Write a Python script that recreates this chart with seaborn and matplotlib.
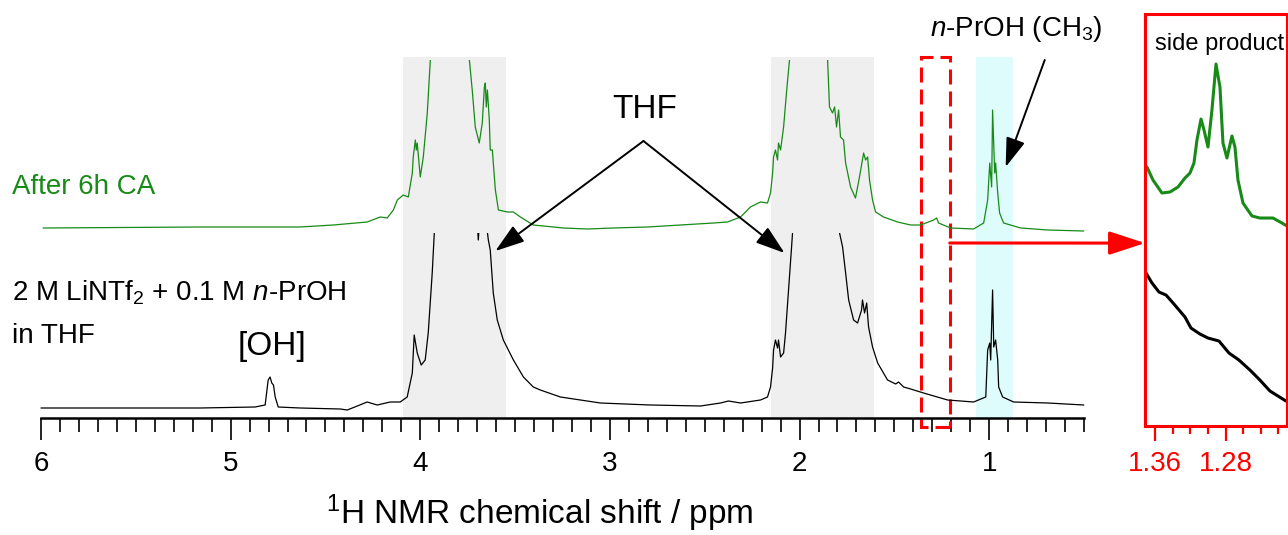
import pandas as pd
import seaborn as sns
import matplotlib.pyplot as plt
from matplotlib.patches import Rectangle
from matplotlib.ticker import MultipleLocator

# 1H NMR traces: (ppm, intensity, arb. units)
before = [
    (6.000, 0), (5.689, 0), (5.161, 0), (4.871, 1), (4.818, 3), (4.802, 28),
    (4.792, 31), (4.783, 25), (4.774, 23), (4.765, 11), (4.749, 1), (4.633, 0),
    (4.422, -1), (4.385, -2), (4.332, 2), (4.280, 6), (4.227, 3), (4.158, 6),
    (4.106, 6), (4.069, 11), (4.042, 35), (4.032, 73), (4.016, 55), (3.995, 43),
    (3.974, 48), (3.958, 75), (3.937, 135), (3.926, 175), (3.868, 400), (3.763, 400),
    (3.704, 200), (3.694, 168), (3.683, 200), (3.652, 185), (3.641, 168), (3.631, 158),
    (3.615, 115), (3.594, 88), (3.562, 68), (3.509, 48), (3.456, 31), (3.404, 21),
    (3.367, 18), (3.261, 11), (3.050, 5), (2.786, 3), (2.522, 2), (2.417, 5),
    (2.375, 7), (2.311, 5), (2.206, 8), (2.169, 11), (2.153, 21), (2.142, 40),
    (2.137, 58), (2.127, 68), (2.116, 60), (2.111, 68), (2.100, 51), (2.084, 55),
    (2.074, 75), (2.058, 118), (2.042, 161), (2.037, 175), (1.995, 400), (1.837, 400),
    (1.789, 175), (1.773, 161), (1.757, 135), (1.741, 108), (1.715, 88), (1.694, 85),
    (1.673, 98), (1.668, 108), (1.657, 95), (1.646, 105), (1.636, 81), (1.615, 61),
    (1.588, 45), (1.536, 28), (1.493, 24), (1.478, 26), (1.451, 21), (1.414, 19),
    (1.346, 15), (1.219, 8), (1.082, 6), (1.018, 11), (1.008, 58), (0.997, 65),
    (0.992, 48), (0.982, 118), (0.976, 61), (0.966, 68), (0.955, 48), (0.950, 21),
    (0.929, 11), (0.871, 6), (0.691, 5), (0.501, 3),
]

after = [
    (5.989, 0), (5.161, 1), (4.633, 1), (4.459, 3), (4.280, 6), (4.211, 11),
    (4.174, 10), (4.142, 18), (4.121, 28), (4.090, 33), (4.063, 31), (4.042, 55),
    (4.037, 71), (4.026, 88), (4.021, 78), (4.016, 85), (4.000, 51), (3.984, 71),
    (3.963, 115), (3.947, 168), (3.868, 400), (3.789, 400), (3.741, 168), (3.726, 138),
    (3.710, 101), (3.689, 85), (3.673, 105), (3.662, 141), (3.657, 145), (3.652, 121),
    (3.646, 138), (3.636, 108), (3.631, 78), (3.620, 78), (3.604, 38), (3.588, 18),
    (3.541, 16), (3.509, 16), (3.472, 11), (3.404, 3), (3.245, 0), (3.119, -1),
    (2.982, 0), (2.802, 1), (2.628, 3), (2.454, 5), (2.380, 6), (2.311, 11),
    (2.259, 21), (2.206, 26), (2.169, 25), (2.153, 35), (2.142, 55), (2.137, 71),
    (2.127, 78), (2.116, 68), (2.111, 85), (2.100, 78), (2.084, 101), (2.069, 135),
    (2.053, 168), (1.995, 400), (1.889, 400), (1.852, 168), (1.842, 121), (1.826, 115),
    (1.815, 121), (1.805, 101), (1.794, 118), (1.784, 91), (1.768, 88), (1.757, 65),
    (1.731, 41), (1.705, 30), (1.684, 51), (1.662, 75), (1.652, 68), (1.641, 71),
    (1.631, 48), (1.615, 28), (1.599, 16), (1.557, 11), (1.483, 6), (1.414, 3),
    (1.361, 3), (1.293, 8), (1.277, 10), (1.267, 5), (1.203, 0), (1.082, -1),
    (1.029, 5), (1.008, 28), (0.997, 65), (0.987, 41), (0.982, 118), (0.971, 55),
    (0.966, 65), (0.955, 35), (0.945, 15), (0.924, 5), (0.834, 0), (0.691, -2),
    (0.501, -3),
]

# zoom of the 1.37 - 1.21 ppm window (side product)
zoom_after = [
    (1.3691, 259), (1.3623, 246), (1.3521, 233), (1.3430, 234), (1.3339, 239),
    (1.3260, 248), (1.3203, 253), (1.3158, 263), (1.3124, 286), (1.3078, 307),
    (1.3044, 296), (1.2999, 279), (1.2954, 316), (1.2908, 362), (1.2863, 339),
    (1.2829, 283), (1.2784, 268), (1.2727, 290), (1.2693, 279), (1.2659, 246),
    (1.2602, 223), (1.2500, 210), (1.2410, 208), (1.2262, 208), (1.2160, 203),
    (1.2103, 200),
]
zoom_before = [
    (1.3702, 153), (1.3634, 143), (1.3555, 134), (1.3475, 131), (1.3385, 122),
    (1.3260, 109), (1.3192, 98), (1.3090, 92), (1.2999, 88), (1.2874, 85),
    (1.2761, 73), (1.2648, 66), (1.2523, 56), (1.2410, 46), (1.2296, 35),
    (1.2205, 30), (1.2115, 25),
]

thf_regions = [(4.090, 3.546), (2.153, 1.609)]
ch3_region = (1.071, 0.876)
zoom_window = (1.358, 1.208)

green = "#178a17"
red = "#ff0000"
offset = 180  # vertical offset of the "after" trace

sns.set_theme(style="white")
plt.rcParams["font.family"] = ["Liberation Sans", "DejaVu Sans"]
plt.rcParams["mathtext.fontset"] = "custom"
plt.rcParams["mathtext.rm"] = "Liberation Sans"
plt.rcParams["mathtext.it"] = "Liberation Sans:italic"
plt.rcParams["text.color"] = "black"

df_before = pd.DataFrame(before, columns=["ppm", "intensity"])
df_after = pd.DataFrame(after, columns=["ppm", "intensity"])
df_after["intensity"] = df_after["intensity"] + offset
dz_after = pd.DataFrame(zoom_after, columns=["ppm", "intensity"])
dz_before = pd.DataFrame(zoom_before, columns=["ppm", "intensity"])

fig = plt.figure(figsize=(12.88, 5.35), dpi=100)
ax = fig.add_axes([0.03183, 0.21869, 0.80978, 0.67477])

for hi, lo in thf_regions:
    ax.axvspan(lo, hi, color="#efefef", lw=0, zorder=0)
ax.axvspan(ch3_region[1], ch3_region[0], color="#dffcfd", lw=0, zorder=0)

sns.lineplot(data=df_before, x="ppm", y="intensity", color="black", lw=0.9,
             estimator=None, sort=False, ax=ax)
ax.lines[-1].set_clip_path(Rectangle((0, -50), 7, 50 + 175, transform=ax.transData))

sns.lineplot(data=df_after, x="ppm", y="intensity", color=green, lw=0.9,
             estimator=None, sort=False, ax=ax)
ax.lines[-1].set_clip_path(Rectangle((0, -50), 7, 50 + 348, transform=ax.transData))

ax.set_xlim(6, 0.5)
ax.set_ylim(-10, 351)
ax.set_yticks([])
ax.set_ylabel("")
for s in ["left", "right", "top"]:
    ax.spines[s].set_visible(False)
ax.spines["bottom"].set_linewidth(1.8)
ax.spines["bottom"].set_color("black")
ax.xaxis.set_major_locator(MultipleLocator(1))
ax.xaxis.set_minor_locator(MultipleLocator(0.1))
ax.tick_params(axis="x", which="both", bottom=True, direction="out",
               width=1.2, colors="black")
ax.tick_params(axis="x", which="major", length=16, labelsize=20, pad=8)
ax.tick_params(axis="x", which="minor", length=10)
ax.set_xlabel(r"$^1$H NMR chemical shift / ppm", fontsize=24, va="baseline",
              color="black")
ax.xaxis.set_label_coords(0.478, -0.293)

# dashed box marking the zoomed window
ax.add_patch(Rectangle((zoom_window[1], -19), zoom_window[0] - zoom_window[1], 370,
                       fill=False, ec=red, lw=2.2, ls=(0, (4.9, 2.3)), clip_on=False))

# labels
ax.text(6.153, 214, "After 6h CA", color=green, fontsize=20, ha="left", va="baseline")
ax.text(6.153, 108, r"2 M LiNTf$_2$ + 0.1 M $n$-PrOH", fontsize=20,
        ha="left", va="baseline")
ax.text(6.153, 65, "in THF", fontsize=20, ha="left", va="baseline")
ax.text(4.781, 53, "[OH]", fontsize=24, ha="center", va="baseline")
ax.text(2.818, 290, "THF", fontsize=24, ha="center", va="baseline")
ax.text(0.855, 372, r"$n$-PrOH (CH$_3$)", fontsize=20, ha="center", va="baseline")

black_arrow = dict(arrowstyle="-|>,head_length=0.9,head_width=0.3", color="black",
                   lw=1.4, shrinkA=0, shrinkB=0, mutation_scale=20)
ax.annotate("", xy=(3.604, 157), xytext=(2.823, 267), arrowprops=black_arrow)
ax.annotate("", xy=(2.079, 155), xytext=(2.823, 267), arrowprops=black_arrow)
ax.annotate("", xy=(0.913, 241), xytext=(0.707, 348), arrowprops=black_arrow,
            annotation_clip=False)

# inset
axz = fig.add_axes([0.8890, 0.2037, 0.1102, 0.7701])
sns.lineplot(data=dz_after, x="ppm", y="intensity", color=green, lw=2.2,
             estimator=None, sort=False, ax=axz)
sns.lineplot(data=dz_before, x="ppm", y="intensity", color="black", lw=2.2,
             estimator=None, sort=False, ax=axz)
axz.set_xlim(1.3713, 1.2103)
axz.set_ylim(0, 412)
axz.set_yticks([])
axz.set_xlabel("")
axz.set_ylabel("")
for s in axz.spines.values():
    s.set_color(red)
    s.set_linewidth(2.2)
axz.xaxis.set_major_locator(MultipleLocator(0.08))
axz.xaxis.set_minor_locator(MultipleLocator(0.02))
axz.tick_params(axis="x", which="both", bottom=True, direction="out",
                width=1.6, colors=red)
axz.tick_params(axis="x", which="major", length=11, labelsize=20, pad=7)
axz.tick_params(axis="x", which="minor", length=6)
axz.text(1.2863, 376, "side product", fontsize=17, ha="center", va="baseline")

axz.annotate("", xy=(0, 0.444), xycoords="axes fraction",
             xytext=(zoom_window[1], 165), textcoords=ax.transData,
             arrowprops=dict(arrowstyle="-|>,head_length=1.1,head_width=0.36",
                             color=red, lw=2.2, shrinkA=0, shrinkB=0,
                             mutation_scale=20))

fig.savefig("out.png", dpi=100)
